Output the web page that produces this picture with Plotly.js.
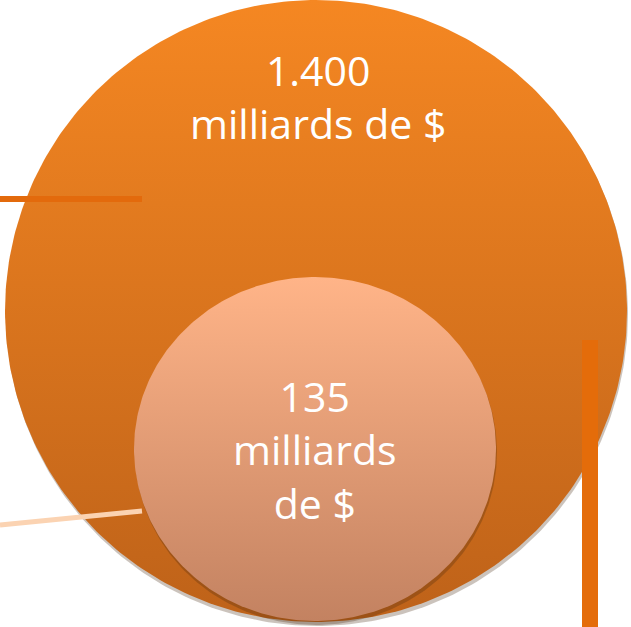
<!DOCTYPE html>
<html>
<head>
<meta charset="utf-8">
<script src="https://cdn.plot.ly/plotly-3.0.1.min.js"></script>
<style>html,body{margin:0;padding:0;background:#fff;overflow:hidden}#chart{width:631px;height:627px}</style>
</head>
<body>
<div id="chart"></div>
<script>
// Data
const labels = ["1.400<br>milliards de $", "135<br>milliards<br>de $"];
const values = [1400, 135];
// Layout geometry (pixel-like coordinates)
const centersX = [316, 315];
const centersY = [311, 449];
const radiiX = [311, 181];
const radiiY = [311, 172];
const topColors = ["#F58722", "#FFB488"];
const bottomColors = ["#BE6219", "#C38261"];

function ellipsePts(cx, cy, rx, ry, n) {
  const xs = [], ys = [];
  for (let i = 0; i <= n; i++) {
    const a = 2 * Math.PI * i / n;
    xs.push(cx + rx * Math.cos(a));
    ys.push(cy + ry * Math.sin(a));
  }
  return {xs, ys};
}

const traces = [];
for (let k = 0; k < values.length; k++) {
  // soft shadow
  const s = ellipsePts(centersX[k] + 1, centersY[k] + 3, radiiX[k], radiiY[k] + 1, 360);
  traces.push({x: s.xs, y: s.ys, type: 'scatter', mode: 'lines', fill: 'toself',
    fillcolor: 'rgba(70,40,15,0.28)', line: {width: 0, color: 'rgba(0,0,0,0)'}, hoverinfo: 'skip', showlegend: false});
  const c = ellipsePts(centersX[k], centersY[k], radiiX[k], radiiY[k], 360);
  traces.push({x: c.xs, y: c.ys, type: 'scatter', mode: 'lines', fill: 'toself',
    fillgradient: {type: 'vertical', start: centersY[k] - radiiY[k], stop: centersY[k] + radiiY[k],
      colorscale: [[0, topColors[k]], [1, bottomColors[k]]]},
    line: {width: 0, color: 'rgba(0,0,0,0)'}, hoverinfo: 'skip', showlegend: false, name: String(values[k])});
}

const layout = {
  width: 631, height: 627,
  margin: {l: 0, r: 0, t: 0, b: 0},
  paper_bgcolor: '#ffffff', plot_bgcolor: '#ffffff',
  xaxis: {range: [0, 631], visible: false, fixedrange: true},
  yaxis: {range: [627, 0], visible: false, fixedrange: true},
  showlegend: false,
  shapes: [
    {type: 'line', xref: 'x', yref: 'y', x0: 0, x1: 142, y0: 199, y1: 199, line: {color: '#E36A0C', width: 6}},
    {type: 'line', xref: 'x', yref: 'y', x0: 0, x1: 142, y0: 525, y1: 511, line: {color: '#FBD3B2', width: 5}},
    {type: 'line', xref: 'x', yref: 'y', x0: 590, x1: 590, y0: 340, y1: 627, line: {color: '#E46C0A', width: 16}}
  ],
  annotations: [
    {x: 318, y: 96, xref: 'x', yref: 'y', text: labels[0], showarrow: false,
      font: {family: 'Open Sans, sans-serif', size: 41, color: '#ffffff'}, align: 'center'},
    {x: 315, y: 449, xref: 'x', yref: 'y', text: labels[1], showarrow: false,
      font: {family: 'Open Sans, sans-serif', size: 41, color: '#ffffff'}, align: 'center'}
  ]
};
Plotly.newPlot('chart', traces, layout, {displayModeBar: false, staticPlot: true});
</script>
</body>
</html>
